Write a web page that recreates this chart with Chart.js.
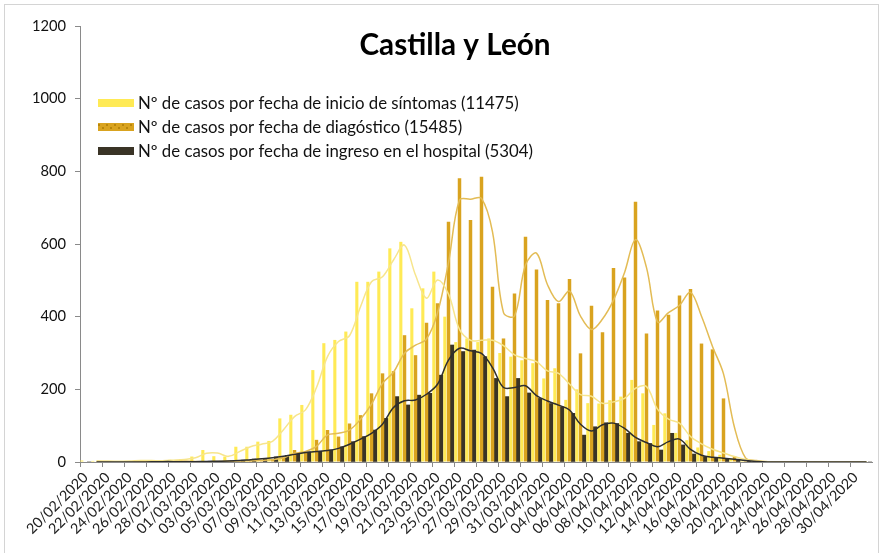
<!DOCTYPE html>
<html><head><meta charset="utf-8">
<script src="https://cdn.jsdelivr.net/npm/chart.js@4.4.0/dist/chart.umd.min.js"></script>
<style>html,body{margin:0;padding:0;background:#fff;overflow:hidden}#wrap{position:relative;width:883px;height:553px}</style>
</head><body><div id="wrap"><canvas id="c" width="883" height="553"></canvas></div>
<script>
const chartTitle = 'Castilla y León';
const seriesLabels = [
  'Nº de casos por fecha de inicio de síntomas (11475)',
  'Nº de casos por fecha de diagóstico (15485)',
  'Nº de casos por fecha de ingreso en el hospital (5304)'
];
const dates = [
  '20/02/2020','21/02/2020','22/02/2020','23/02/2020','24/02/2020','25/02/2020','26/02/2020','27/02/2020','28/02/2020','29/02/2020',
  '01/03/2020','02/03/2020','03/03/2020','04/03/2020','05/03/2020','06/03/2020','07/03/2020','08/03/2020','09/03/2020','10/03/2020',
  '11/03/2020','12/03/2020','13/03/2020','14/03/2020','15/03/2020','16/03/2020','17/03/2020','18/03/2020','19/03/2020','20/03/2020',
  '21/03/2020','22/03/2020','23/03/2020','24/03/2020','25/03/2020','26/03/2020','27/03/2020','28/03/2020','29/03/2020','30/03/2020',
  '31/03/2020','01/04/2020','02/04/2020','03/04/2020','04/04/2020','05/04/2020','06/04/2020','07/04/2020','08/04/2020','09/04/2020',
  '10/04/2020','11/04/2020','12/04/2020','13/04/2020','14/04/2020','15/04/2020','16/04/2020','17/04/2020','18/04/2020','19/04/2020',
  '20/04/2020','21/04/2020','22/04/2020','23/04/2020','24/04/2020','25/04/2020','26/04/2020','27/04/2020','28/04/2020','29/04/2020',
  '30/04/2020','01/05/2020'
];
// Nº de casos por fecha de inicio de síntomas
const sintomas = [
  4,3,2,2,3,5,3,4,6,8,
  15,33,16,15,42,42,56,58,120,130,
  157,253,327,336,359,496,496,524,588,606,
  423,478,524,400,330,340,330,340,300,290,
  280,272,230,258,171,200,162,161,170,180,
  226,189,102,134,80,60,40,30,20,10,
  4,2,0,0,0,0,0,0,0,0,
  0,0
];
// Nº de casos por fecha de diagnóstico
const diagnostico = [
  0,0,0,0,0,2,3,4,3,2,
  1,1,2,3,3,4,5,8,15,33,
  25,61,88,70,106,129,189,244,250,349,
  294,383,437,661,781,666,785,482,340,464,
  620,530,446,437,504,299,430,357,534,508,
  716,354,417,405,458,476,326,310,175,15,
  8,0,0,0,0,0,0,0,0,0,
  0,0
];
// Nº de casos por fecha de ingreso en el hospital
const hospital = [
  0,0,0,0,0,0,1,1,1,1,
  1,2,2,3,5,8,10,14,18,24,
  28,30,33,42,56,70,88,120,180,157,
  184,189,239,322,304,308,290,230,180,230,
  190,175,161,152,134,74,97,108,106,79,
  56,51,33,79,47,22,15,11,10,5,
  3,0,0,0,0,0,0,0,0,0,
  0,0
];
const yTicks = [0, 200, 400, 600, 800, 1000, 1200];

// Excel-style moving-average trendline (period 2)
function movingAverage(arr, period) {
  return arr.map((v, i) => {
    if (i < period - 1) return null;
    let s = 0;
    for (let k = 0; k < period; k++) s += arr[i - k];
    return s / period;
  });
}

const FAMILY = 'Lato, "Open Sans", "DejaVu Sans", sans-serif';
const meas = document.createElement('canvas').getContext('2d');
function fitSize(text, weight, target) {
  meas.font = weight + ' 100px ' + FAMILY;
  return Math.round(100 * target / meas.measureText(text).width * 10) / 10;
}
const titleSize = fitSize(chartTitle, 'bold', 191);
const legendSize = fitSize(seriesLabels[0], 'normal', 380);
const xSize = fitSize('20/02/2020', 'normal', 80);
const ySize = fitSize('1200', 'normal', 34);

const colors = {
  sintomas: '#FFEA55',
  diagnostico: '#D9A31F',
  hospital: '#3A3426',
  sintomasLine: '#F7E58C',
  diagnosticoLine: '#E3BC55',
  hospitalLine: '#2E2E2E'
};

const overlay = {
  id: 'overlay',
  afterDraw(chart) {
    const c = chart.ctx;
    c.save();
    c.strokeStyle = '#d4d4d4';
    c.lineWidth = 1;
    c.strokeRect(4.5, 4.5, 874, 580);
    c.fillStyle = '#000';
    c.font = 'bold ' + titleSize + 'px ' + FAMILY;
    c.textAlign = 'center';
    c.textBaseline = 'middle';
    c.fillText(chartTitle, 455, 45);
    const rows = [
      {y: 103, col: colors.sintomas},
      {y: 127, col: colors.diagnostico},
      {y: 151, col: colors.hospital}
    ];
    c.font = legendSize + 'px ' + FAMILY;
    c.textAlign = 'left';
    rows.forEach((r, i) => {
      c.fillStyle = r.col;
      c.fillRect(98, r.y - 4, 36, 8);
      if (i === 1) {
        c.fillStyle = '#B8860B';
        for (let k = 0; k < 36; k += 4) c.fillRect(98 + k, r.y - 4 + (k % 8 === 0 ? 1 : 4), 2, 2);
      }
      c.fillStyle = '#111';
      c.fillText(seriesLabels[i], 138, r.y + 1);
    });
    c.restore();
  }
};

new Chart(document.getElementById('c'), {
  data: {
    labels: dates,
    datasets: [
      {type: 'line', label: 'ma1', data: movingAverage(sintomas, 2), borderColor: colors.sintomasLine, borderWidth: 1.5, pointRadius: 0, tension: 0.35, order: 1},
      {type: 'line', label: 'ma2', data: movingAverage(diagnostico, 2), borderColor: colors.diagnosticoLine, borderWidth: 1.5, pointRadius: 0, tension: 0.35, order: 1},
      {type: 'line', label: 'ma3', data: movingAverage(hospital, 2), borderColor: colors.hospitalLine, borderWidth: 1.5, pointRadius: 0, tension: 0.35, order: 0},
      {type: 'bar', label: seriesLabels[0], data: sintomas, backgroundColor: colors.sintomas, categoryPercentage: 1, barPercentage: 0.85, order: 3},
      {type: 'bar', label: seriesLabels[1], data: diagnostico, backgroundColor: colors.diagnostico, categoryPercentage: 1, barPercentage: 0.95, order: 3},
      {type: 'bar', label: seriesLabels[2], data: hospital, backgroundColor: colors.hospital, categoryPercentage: 1, barPercentage: 1, order: 3}
    ]
  },
  options: {
    responsive: false,
    animation: false,
    devicePixelRatio: 1,
    layout: {padding: {left: 0, right: 11, top: 26, bottom: 0}},
    plugins: {legend: {display: false}, title: {display: false}, tooltip: {enabled: false}},
    scales: {
      x: {
        type: 'category',
        offset: true,
        grid: {display: true, drawOnChartArea: false, offset: true, tickLength: 5,
               tickColor: (ctx) => (ctx.index % 2 === 0 ? '#8a8a8a' : 'rgba(0,0,0,0)')},
        border: {display: true, color: '#8a8a8a', width: 1},
        ticks: {
          autoSkip: false, maxRotation: 45, minRotation: 45, padding: 2,
          color: '#222', font: {size: xSize, family: FAMILY},
          callback: function (v, i) { return i % 2 === 0 ? dates[i] : ''; }
        },
        afterFit: (s) => { s.height = 91; }
      },
      y: {
        min: 0, max: 1200,
        afterBuildTicks: (s) => { s.ticks = yTicks.map(v => ({value: v})); },
        grid: {display: true, drawOnChartArea: false, tickLength: 5, tickColor: '#8a8a8a'},
        border: {display: true, color: '#8a8a8a', width: 1},
        ticks: {color: '#111', padding: 9, font: {size: ySize, family: FAMILY},
                callback: (v) => String(v)},
        afterFit: (s) => { s.width = 80; }
      }
    }
  },
  plugins: [overlay]
});
</script>
</body></html>
